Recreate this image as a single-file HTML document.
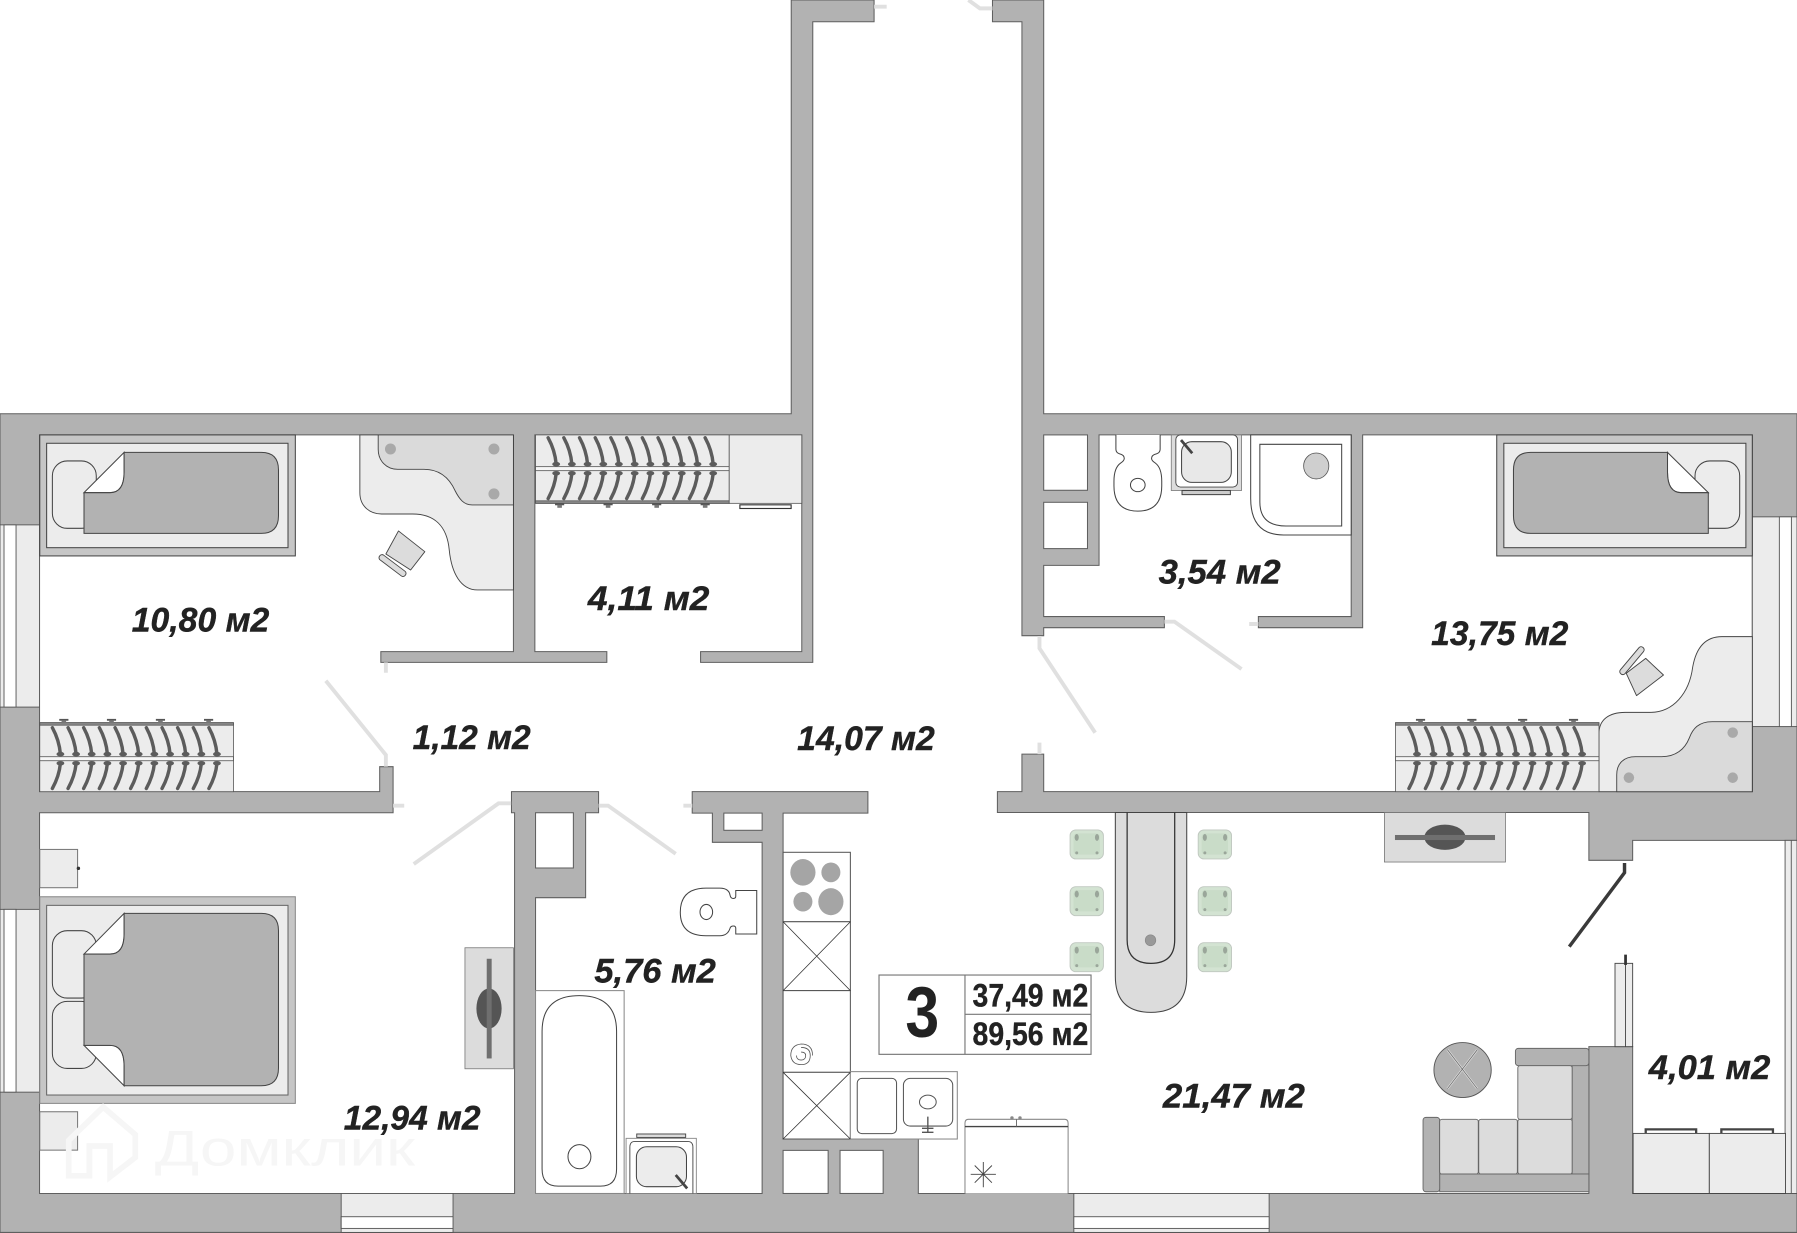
<!DOCTYPE html>
<html><head><meta charset="utf-8"><title>План квартиры</title>
<style>html,body{margin:0;padding:0;background:#fff}svg{display:block}
text{font-family:"Liberation Sans",sans-serif;fill:#222}
.r{font-size:30px;font-weight:bold;font-style:italic;stroke:#222;stroke-width:.35px}
.i{font-size:28px;font-weight:bold;stroke:#222;stroke-width:.3px}
</style></head><body>
<svg xmlns="http://www.w3.org/2000/svg" width="1797" height="1233" viewBox="0 0 1568 1075.9" preserveAspectRatio="none">
<defs>
<g id="hu" fill="none" stroke="#5c5c5c" stroke-width="3" stroke-linecap="round">
<path d="M0-4Q-1-16-7-27"/><path d="M0 4Q-1 15-7 26"/>
<ellipse cx="0" cy="-4" rx="3.4" ry="2" fill="#5c5c5c" stroke="none"/><ellipse cx="0" cy="4" rx="3.4" ry="2" fill="#5c5c5c" stroke="none"/>
</g>
<g id="kn"><rect x="-4" y="-1.2" width="8" height="1.6" fill="#555"/><rect x="-2" y="0" width="4" height="2.6" fill="#777"/></g>
<g id="seat"><rect x="0" y="0" width="29.1" height="25.3" rx="5" fill="#d3e3d2" stroke="#c0c8c0" stroke-width=".8"/>
<rect x="3" y="3" width="23" height="18.5" rx="3" fill="#c9dcc8"/>
<ellipse cx="5.8" cy="6.5" rx="1.8" ry="3" fill="#9aa69a"/><ellipse cx="23.5" cy="6.5" rx="1.8" ry="3" fill="#9aa69a"/>
<circle cx="5.8" cy="20" r="1.3" fill="#9aa69a"/><circle cx="23.5" cy="20" r="1.3" fill="#9aa69a"/></g>
</defs>

<!-- Main walls -->
<path fill="#b2b2b2" stroke="#5f5f5f" stroke-width=".9" d="M0 361H690.4V0H762.7V19H709.2V578H611.3V568.6H699.6V379.5H466.7V568.6H529.5V578H332.3V568.6H448V379.5H34.5V690.8H331.3V669H343V709.2H34.5V1041.4H449V709.2H446.3V690.8H522.3V709.2H511V783.3H467.3V1041.4H665V735H621.6V709.5H604V690.8H757.3V709.5H683.3V993.9H801.3V1041.4H1386.4V913.3H1424.6V1041.4H1568V1075.4H0Z"/>
<path fill="#b2b2b2" stroke="#5f5f5f" stroke-width=".9" d="M866 0H910.7V361H1568V733.3H1424.6V750.7H1386.4V709H870.3V690.8H891.7V658H910.7V690.8H1529V379.5H1189V547.7H1098V538H1179V379.5H959V493.3H910.7V538H1016V547.7H910.7V554.7H891.7V19H866Z"/>
<!-- shafts -->
<g fill="#fff" stroke="#5f5f5f" stroke-width=".9">
<rect x="910.7" y="379.5" width="38.2" height="48.3"/><rect x="910.7" y="438.3" width="38.2" height="40.4"/>
<rect x="467.3" y="709.2" width="33" height="48.2"/><rect x="631.6" y="709.5" width="33.4" height="15"/>
<rect x="683.3" y="1003.8" width="39.3" height="37.6"/><rect x="733" y="1003.8" width="37.6" height="37.6"/>
</g>
<!-- windows -->
<g stroke="#555" stroke-width=".8">
<rect x="0" y="458" width="34.5" height="159" fill="#ececec"/><rect x="3.5" y="458" width="10.5" height="159" fill="#fff"/>
<rect x="0" y="793.5" width="34.5" height="159.5" fill="#ececec"/><rect x="3.5" y="793.5" width="10.5" height="159.5" fill="#fff"/>
<rect x="1529" y="451" width="39" height="183" fill="#ececec"/><rect x="1552.6" y="451" width="10.5" height="183" fill="#fff"/>
<rect x="297.7" y="1041.4" width="97.6" height="34" fill="#ececec"/><rect x="297.7" y="1061.7" width="97.6" height="10.2" fill="#fff"/>
<rect x="937" y="1041.4" width="170.4" height="34" fill="#ececec"/><rect x="937" y="1061.7" width="170.4" height="10.2" fill="#fff"/>
<rect x="1557.6" y="733.3" width="10.4" height="308.1" fill="#ececec"/><line x1="1563" y1="733.3" x2="1563" y2="1041.4"/>
</g>
<!-- doors -->
<g fill="none" stroke="#e0e0e0" stroke-width="3.4">
<path d="M284.3 594L336.7 658.8V669M336.7 578V587M343 703H352.7"/>
<path d="M361 754L435 701H446M522.3 703H530.6L589.6 745M604 703H596.3"/>
<path d="M907 555V565.7L955.6 639.3M907 648V658"/>
<path d="M1016 542.5H1024.8L1083.3 583.8M1098 544.5H1090"/>
<path d="M762.7 5.8H773.7M866 7.3H855L845 0"/>
</g>
<path d="M1417.5 753V761.5L1369.3 826" fill="none" stroke="#3a3a3a" stroke-width="3"/>

<!-- top-left bed -->
<g stroke="#444" stroke-width=".9">
<rect x="34.7" y="379.5" width="223" height="105.6" fill="#c6c6c6"/>
<rect x="40.7" y="386.8" width="210.6" height="91.1" fill="#ececec"/>
<rect x="45.7" y="402.2" width="38.3" height="58.8" rx="13" fill="#ececec"/>
<path fill="#fff" d="M73.3 429.9L108.3 394.7V412Q108.3 429.9 96 429.9Z"/>
<path fill="#b2b2b2" d="M73.3 429.9H96Q108.3 429.9 108.3 412V394.7H228Q243 394.7 243 410V450Q243 465.4 228 465.4H73.3Z"/>
</g>
<!-- right bed -->
<g stroke="#444" stroke-width=".9">
<rect x="1306" y="379.5" width="223" height="105.6" fill="#c6c6c6"/>
<rect x="1312.2" y="386.8" width="211.2" height="91.1" fill="#ececec"/>
<rect x="1479" y="402.2" width="39" height="58.8" rx="13" fill="#ececec"/>
<path fill="#fff" d="M1490.6 429.9L1455 394.7V412Q1455 429.9 1467 429.9Z"/>
<path fill="#b2b2b2" d="M1490.6 429.9H1467Q1455 429.9 1455 412V394.7H1335.6Q1320.6 394.7 1320.6 410V450Q1320.6 465.4 1335.6 465.4H1490.6Z"/>
</g>
<!-- master bed -->
<g stroke="#444" stroke-width=".9">
<rect x="34.7" y="782.5" width="223" height="180.3" fill="#c6c6c6" stroke="#888"/>
<rect x="40.7" y="790" width="210.6" height="165.5" fill="#ececec" stroke="#666"/>
<rect x="45.7" y="812.1" width="38.3" height="58.8" rx="13" fill="#ececec"/>
<rect x="45.7" y="873.8" width="38.3" height="58.5" rx="13" fill="#ececec"/>
<path fill="#fff" d="M73.3 832.5L108.3 797V815Q108.3 832.5 96 832.5Z"/>
<path fill="#fff" d="M73.3 912.2L108.3 947.4V930Q108.3 912.2 96 912.2Z"/>
<path fill="#b2b2b2" d="M73.3 832.5H96Q108.3 832.5 108.3 815V797H228Q243 797 243 812V932Q243 947.4 228 947.4H108.3V930Q108.3 912.2 96 912.2H73.3Z"/>
<rect x="34.7" y="741.2" width="33" height="33.4" fill="#ececec" stroke="#777"/>
<rect x="34.7" y="970.1" width="33" height="33.5" fill="#ececec" stroke="#777"/>
</g>
<circle cx="68.4" cy="757.7" r="1.5" fill="#333"/><circle cx="68.4" cy="986.7" r="1.5" fill="#333"/>

<!-- desks -->
<path d="M314 379.5V430C314 442 323 448.5 333 448.5H360C378 448.5 390 458 392 480C394 500 402 514.8 416.7 514.8H448V379.5Z" fill="#ececec" stroke="#444" stroke-width=".8"/>
<path d="M330 379.5V392C330 402 337 409.5 347 409.5H370C384 409.5 392 417 397 428C401 436 405 440.6 412 440.6H448V379.5Z" fill="#dadada" stroke="#444" stroke-width=".8"/>
<g fill="#a9a9a9"><circle cx="340.7" cy="391.8" r="4.8"/><circle cx="431" cy="391.8" r="4.8"/><circle cx="431" cy="431" r="4.8"/></g>
<g fill="#dcdcdc" stroke="#444" stroke-width=".8">
<path d="M347.7 463.3L370.7 481.4L358.3 497.4L336.7 483.4Z" stroke-linejoin="round"/>
<rect x="-14" y="-2.6" width="28" height="5.2" rx="2.4" transform="translate(342.5 493.5) rotate(37)"/>
</g>
<path d="M1529 555.5H1502.5C1488 555.5 1480 565 1477 582C1474 605 1460 621.6 1440 621.6H1418C1404 621.6 1395.2 628 1395.2 640V690.8H1529Z" fill="#ececec" stroke="#444" stroke-width=".8"/>
<path d="M1529 629.7H1494C1482 629.7 1477 636 1474 644C1470 654 1462 660.3 1450 660.3H1427C1417 660.3 1410.7 666 1410.7 676V690.8H1529Z" fill="#dadada" stroke="#444" stroke-width=".8"/>
<g fill="#a9a9a9"><circle cx="1511.9" cy="639.3" r="4.6"/><circle cx="1511.9" cy="678.6" r="4.6"/><circle cx="1421.3" cy="678.6" r="4.6"/></g>
<g fill="#dcdcdc" stroke="#444" stroke-width=".8">
<path d="M1436 574.5L1451.5 589L1428 607L1419 587.5Z" stroke-linejoin="round"/>
<rect x="-15" y="-2.6" width="30" height="5.2" rx="2.4" transform="translate(1424 576.5) rotate(-50)"/>
</g>

<!-- wardrobes -->
<g stroke="#555" stroke-width=".7">
<rect x="34.7" y="630.6" width="169" height="60.2" fill="#ececec"/>
<rect x="34.7" y="660.3" width="169" height="3.5" fill="#f6f6f6"/>
<rect x="34.7" y="630.6" width="169" height="2.2" fill="#8a8a8a"/>
<rect x="467.3" y="379.5" width="169" height="59.7" fill="#ececec"/>
<rect x="467.3" y="407.2" width="169" height="3.5" fill="#f6f6f6"/>
<rect x="467.3" y="437" width="169" height="2.2" fill="#8a8a8a"/>
<rect x="636.3" y="379.5" width="63.3" height="59.7" fill="#ececec"/>
<rect x="1217.7" y="630.6" width="177.5" height="60.2" fill="#ececec"/>
<rect x="1217.7" y="660.3" width="177.5" height="3.5" fill="#f6f6f6"/>
<rect x="1217.7" y="630.6" width="177.5" height="2.2" fill="#8a8a8a"/>
</g>
<g>
<use href="#hu" x="52.7" y="662"/><use href="#hu" x="66.4" y="662"/><use href="#hu" x="80" y="662"/><use href="#hu" x="93.7" y="662"/><use href="#hu" x="107.4" y="662"/><use href="#hu" x="121" y="662"/><use href="#hu" x="134.7" y="662"/><use href="#hu" x="148.4" y="662"/><use href="#hu" x="162" y="662"/><use href="#hu" x="175.7" y="662"/><use href="#hu" x="189.3" y="662"/>
<use href="#hu" x="485.3" y="409"/><use href="#hu" x="499" y="409"/><use href="#hu" x="512.7" y="409"/><use href="#hu" x="526.4" y="409"/><use href="#hu" x="540" y="409"/><use href="#hu" x="553.8" y="409"/><use href="#hu" x="567.5" y="409"/><use href="#hu" x="581.2" y="409"/><use href="#hu" x="594.9" y="409"/><use href="#hu" x="608.6" y="409"/><use href="#hu" x="622.3" y="409"/>
<use href="#hu" x="1236.4" y="662"/><use href="#hu" x="1250.8" y="662"/><use href="#hu" x="1265.2" y="662"/><use href="#hu" x="1279.6" y="662"/><use href="#hu" x="1294" y="662"/><use href="#hu" x="1308.4" y="662"/><use href="#hu" x="1322.8" y="662"/><use href="#hu" x="1337.2" y="662"/><use href="#hu" x="1351.6" y="662"/><use href="#hu" x="1366" y="662"/><use href="#hu" x="1380.5" y="662"/>
<use href="#kn" x="55.7" y="628.5"/><use href="#kn" x="97.3" y="628.5"/><use href="#kn" x="140" y="628.5"/><use href="#kn" x="182" y="628.5"/>
<use href="#kn" x="488.3" y="440.5"/><use href="#kn" x="530.6" y="440.5"/><use href="#kn" x="573" y="440.5"/><use href="#kn" x="615.3" y="440.5"/>
<use href="#kn" x="1239.5" y="628.5"/><use href="#kn" x="1284.3" y="628.5"/><use href="#kn" x="1328.6" y="628.5"/><use href="#kn" x="1373" y="628.5"/>
</g>
<rect x="645.6" y="440.5" width="44.7" height="3.2" fill="#fff" stroke="#333" stroke-width="1"/>

<!-- TVs -->
<rect x="405.7" y="827" width="42.3" height="105.6" fill="#dcdcdc" stroke="#777" stroke-width=".7"/>
<ellipse cx="426.7" cy="880" rx="11" ry="17.5" fill="#555"/><rect x="424.7" y="836.6" width="4.3" height="87" fill="#6f6f6f"/>
<rect x="1208" y="709" width="105.6" height="43.2" fill="#dcdcdc" stroke="#777" stroke-width=".7"/>
<ellipse cx="1260.8" cy="730.6" rx="18" ry="11" fill="#555"/><rect x="1217.2" y="728.6" width="87.3" height="4.4" fill="#6f6f6f"/>

<!-- right bathroom -->
<g fill="#fff" stroke="#444" stroke-width=".9">
<path d="M973.7 379.5V392Q973.7 395 977 396Q981 397 981 400Q981 402 978 404Q972 408 972 420V424Q972 446 992.8 446Q1013.7 446 1013.7 424V420Q1013.7 408 1008 404Q1004.8 402 1004.8 400Q1004.8 397 1009 396Q1012.3 395 1012.3 392V379.5"/>
<ellipse cx="992.8" cy="423.2" rx="6.4" ry="5.8"/>
<path d="M1091.3 379.5H1179V466.8H1120Q1091.3 466.8 1091.3 435Z"/>
<path d="M1099.3 387.7H1170.7V459H1122Q1099.3 459 1099.3 438Z"/>
</g>
<ellipse cx="1148.5" cy="406.6" rx="11" ry="11.3" fill="#cfcfcf" stroke="#555" stroke-width=".7"/>
<rect x="1022" y="379.5" width="61.3" height="48.5" fill="#dcdcdc" stroke="#777" stroke-width=".7"/>
<rect x="1026" y="379.5" width="53.8" height="45.5" rx="4" fill="#fff" stroke="#444" stroke-width=".8"/>
<rect x="1031" y="385.4" width="43.4" height="35.5" rx="9" fill="#e8e8e8" stroke="#444" stroke-width=".9"/>
<line x1="1030.5" y1="384" x2="1040.3" y2="395.5" stroke="#444" stroke-width="2.4"/>
<rect x="1031.4" y="428" width="42.2" height="3.6" fill="#ccc" stroke="#444" stroke-width=".9"/>

<!-- left bathroom -->
<g fill="#fff" stroke="#444" stroke-width=".9">
<rect x="467.3" y="864.4" width="77.3" height="177" stroke="#888"/>
<path d="M473 900Q473 868.8 505.5 868.8Q538 868.8 538 900V1020Q538 1035 524 1035H487Q473 1035 473 1020Z"/>
<ellipse cx="505.6" cy="1009.3" rx="10" ry="10.5"/>
<path d="M642 777H660.3V815H642V810Q642 808 640 808Q637.5 808 637 810Q635 816.5 628 816.5H616Q593.6 816.5 593.6 796Q593.6 775 616 775H628Q636 775 637 781Q637.5 784 640 784Q642 784 642 782Z"/>
<ellipse cx="616.3" cy="795.8" rx="5.5" ry="6.6"/>
</g>
<rect x="546.3" y="993.3" width="61.3" height="48.1" fill="#fff" stroke="#888" stroke-width=".8"/>
<path d="M549.6 1041.4V1001Q549.6 996 554 996H600Q604.6 996 604.6 1001V1041.4" fill="none" stroke="#444" stroke-width=".8"/>
<rect x="555.3" y="1000.6" width="43.7" height="34.9" rx="9" fill="#ececec" stroke="#444" stroke-width=".9"/>
<rect x="555.6" y="989.5" width="42.7" height="3" fill="#ddd" stroke="#444" stroke-width=".8"/>
<line x1="589.6" y1="1025.3" x2="599.6" y2="1037" stroke="#444" stroke-width="2.4"/>

<!-- kitchen -->
<g fill="#fff" stroke="#555" stroke-width=".9">
<rect x="683.3" y="743.7" width="58.7" height="60.6"/>
<rect x="683.3" y="804.3" width="58.7" height="60.1"/>
<rect x="683.3" y="864.4" width="58.7" height="71.3"/>
<rect x="683.3" y="935.7" width="58.7" height="58.2"/>
<rect x="742" y="935.1" width="93.3" height="58.8" stroke="#888"/>
<rect x="748" y="941" width="34.3" height="48.2" rx="4"/>
<rect x="788.3" y="941" width="43" height="41.6" rx="6"/>
<ellipse cx="809.6" cy="961.6" rx="7.3" ry="6"/>
<path d="M683.3 804.3L742 864.4M742 804.3L683.3 864.4M683.3 935.7L742 993.9M742 935.7L683.3 993.9" stroke="#333" stroke-width=".7"/>
<path d="M699 914Q707 914 707 921Q707 929 699 929Q691 929 690 921Q690 912 699 911Q709 911 709 921" fill="none" stroke-width=".7"/>
<path d="M699 918Q703 918 703 921Q703 925 699 925Q695 925 695 921" fill="none" stroke-width=".7"/>
</g>
<g fill="#a5a5a5"><ellipse cx="700.6" cy="761.2" rx="11" ry="11.6"/><ellipse cx="725" cy="761.2" rx="8.3" ry="8.6"/><ellipse cx="700.6" cy="786.8" rx="8.3" ry="8.6"/><ellipse cx="725" cy="786.8" rx="11" ry="11.8"/></g>
<path d="M809.6 974.4V987.5M804.5 984.5H814.5M804.5 988H814.5" stroke="#555" stroke-width="1.2" fill="none"/>
<path d="M842 1041.4V980Q842 976.7 845 976.7H929Q932 976.7 932 980V1041.4" fill="#fff" stroke="#888" stroke-width=".9"/>
<path d="M842 983H932" stroke="#444" stroke-width="1.2"/><path d="M887 976.7V983" stroke="#666" stroke-width=".8"/>
<circle cx="883" cy="975.5" r="1.5" fill="#888"/><circle cx="890" cy="975.5" r="1.5" fill="#888"/>
<path d="M858 1014V1036M847 1024.7H869M850.5 1017L865.5 1032M865.5 1017L850.5 1032" stroke="#444" stroke-width=".8"/>

<!-- dining -->
<path d="M973.2 709V852Q973.2 883.4 1004.3 883.4Q1035.5 883.4 1035.5 852V709Z" fill="#dcdcdc" stroke="#444" stroke-width=".9"/>
<path d="M983.5 709V820Q983.5 840.6 1004.3 840.6Q1025 840.6 1025 820V709" fill="none" stroke="#333" stroke-width="1.1"/>
<ellipse cx="1003.9" cy="820.5" rx="4.6" ry="4.8" fill="#999" stroke="#888" stroke-width=".6"/>
<use href="#seat" x="933.7" y="724.2"/><use href="#seat" x="933.7" y="773.7"/><use href="#seat" x="933.7" y="822.6"/>
<use href="#seat" x="1045.5" y="724.2"/><use href="#seat" x="1045.5" y="773.7"/><use href="#seat" x="1045.5" y="822.6"/>

<!-- info box -->
<g fill="#fff" stroke="#777" stroke-width="1">
<rect x="767" y="850.8" width="185" height="69.2"/>
<line x1="842" y1="850.8" x2="842" y2="920"/><line x1="842" y1="885.1" x2="952" y2="885.1"/>
</g>
<text x="790" y="904.6" textLength="29.5" lengthAdjust="spacingAndGlyphs" style="font-size:62px;font-weight:bold">3</text>
<text class="i" x="848.6" y="878.4" textLength="101" lengthAdjust="spacingAndGlyphs">37,49 м2</text>
<text class="i" x="848.6" y="911.9" textLength="101" lengthAdjust="spacingAndGlyphs">89,56 м2</text>

<!-- sofa -->
<g stroke="#666" stroke-width=".8">
<rect x="1371.8" y="929.3" width="14.6" height="95.1" fill="#b2b2b2"/>
<rect x="1256.2" y="1024.4" width="130.2" height="15.5" fill="#b2b2b2"/>
<rect x="1241.7" y="975" width="14.5" height="64.9" rx="2.5" fill="#b2b2b2"/>
<rect x="1322.3" y="914.8" width="64.1" height="15.1" rx="2.5" fill="#b2b2b2"/>
<g fill="#dcdcdc">
<rect x="1256.2" y="976.7" width="33.7" height="47.7" rx="2"/>
<rect x="1290.3" y="976.7" width="33.7" height="47.7" rx="2"/>
<rect x="1324.4" y="976.7" width="47.4" height="47.7" rx="2"/>
<rect x="1324.4" y="929.9" width="47.4" height="46.8" rx="2"/>
</g>
</g>
<ellipse cx="1276.2" cy="933.7" rx="25" ry="24" fill="#b2b2b2" stroke="#555" stroke-width=".8"/>
<path d="M1263 916L1289 950M1289 916L1263 950" stroke="#d8d8d8" stroke-width="2"/>
<path d="M1263 916L1289 950M1289 916L1263 950" stroke="#666" stroke-width=".6"/>

<!-- balcony -->
<g fill="#ececec" stroke="#444" stroke-width=".8">
<rect x="1409.2" y="840.6" width="15.4" height="72.7"/><line x1="1418.4" y1="840.6" x2="1418.4" y2="913.3"/>
<rect x="1425" y="989" width="66.5" height="52.4"/><rect x="1491.5" y="989" width="66.5" height="52.4"/>
</g>
<line x1="1418.4" y1="833" x2="1418.4" y2="842" stroke="#333" stroke-width="2.4"/>
<g fill="none" stroke="#444" stroke-width="2"><path d="M1436 989V985.5H1480V989M1502 989V985.5H1547V989"/></g>

<!-- watermark -->
<g fill="none" stroke="#f6f6f6" stroke-width="5"><path d="M60 995L90 966L118 990V1010L96 1027V1000H78V1026H60Z"/></g>
<text x="135" y="1017" textLength="227" lengthAdjust="spacingAndGlyphs" style="font-size:44px;fill:#f6f6f6">Домклик</text>

<!-- labels -->
<text class="r" x="115" y="551" textLength="120" lengthAdjust="spacingAndGlyphs">10,80 м2</text>
<text class="r" x="513" y="532.3" textLength="106" lengthAdjust="spacingAndGlyphs">4,11 м2</text>
<text class="r" x="360" y="653.6" textLength="103" lengthAdjust="spacingAndGlyphs">1,12 м2</text>
<text class="r" x="695.6" y="654.4" textLength="120" lengthAdjust="spacingAndGlyphs">14,07 м2</text>
<text class="r" x="1011" y="509" textLength="106.5" lengthAdjust="spacingAndGlyphs">3,54 м2</text>
<text class="r" x="1248.8" y="562.8" textLength="119.7" lengthAdjust="spacingAndGlyphs">13,75 м2</text>
<text class="r" x="300" y="985.5" textLength="119.3" lengthAdjust="spacingAndGlyphs">12,94 м2</text>
<text class="r" x="518.6" y="857.2" textLength="106" lengthAdjust="spacingAndGlyphs">5,76 м2</text>
<text class="r" x="1014.7" y="966.3" textLength="123.9" lengthAdjust="spacingAndGlyphs">21,47 м2</text>
<text class="r" x="1438.7" y="941.5" textLength="106" lengthAdjust="spacingAndGlyphs">4,01 м2</text>
</svg>
</body></html>
